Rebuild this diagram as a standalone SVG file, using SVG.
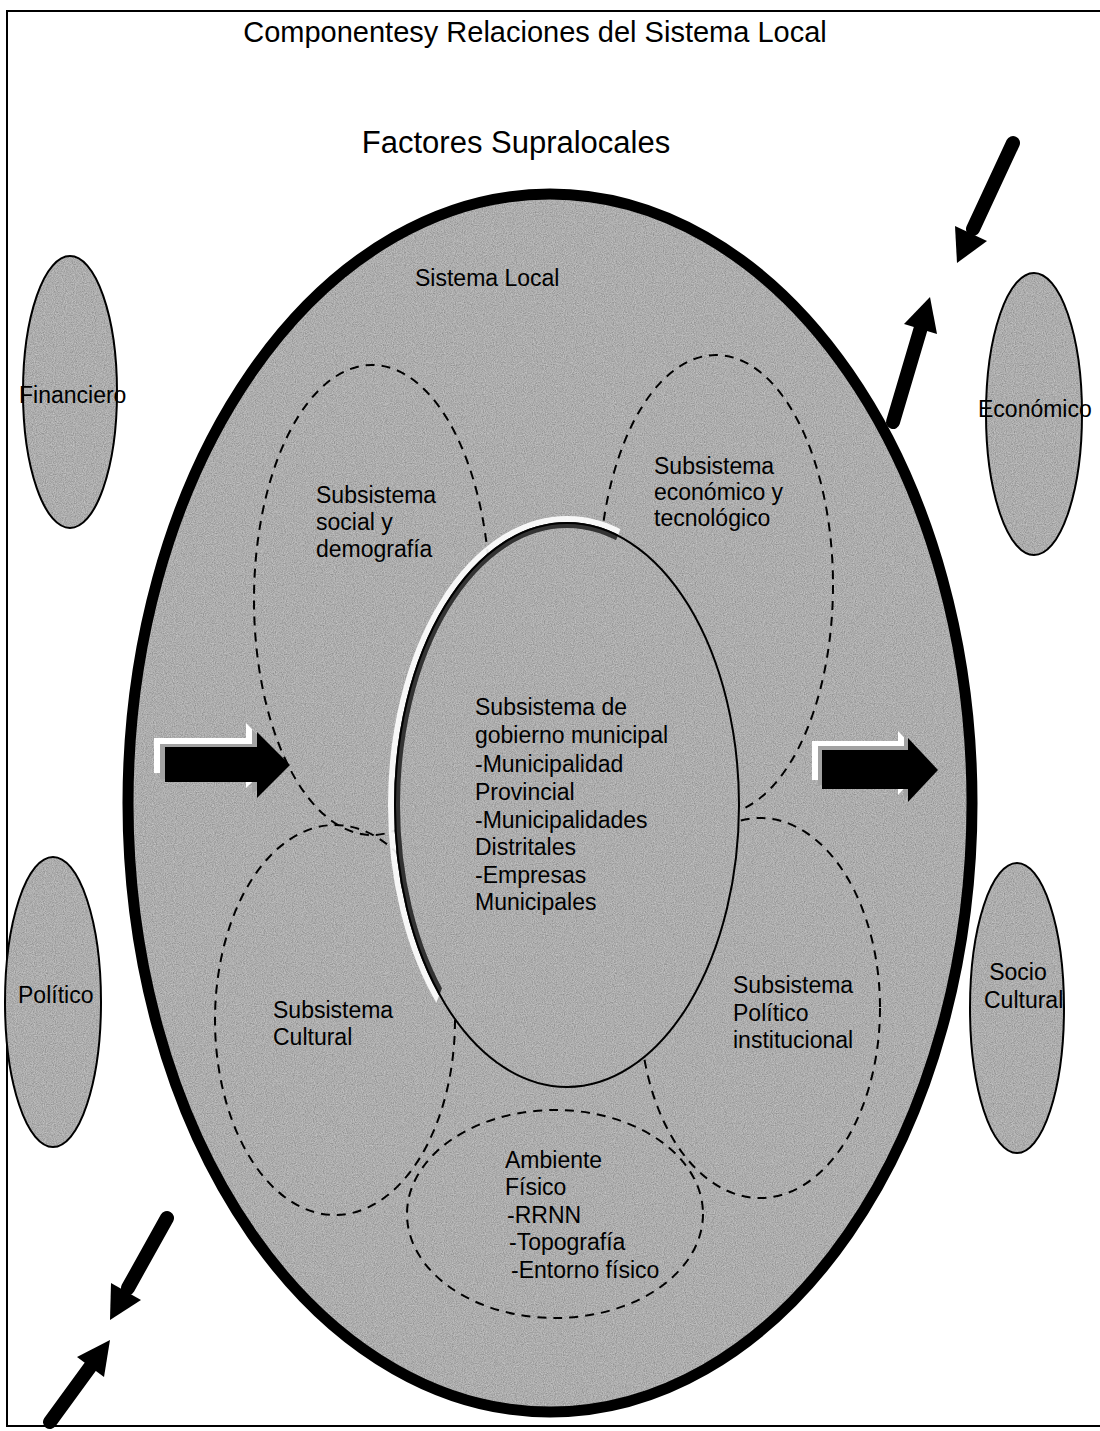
<svg xmlns="http://www.w3.org/2000/svg" width="1100" height="1431" viewBox="0 0 1100 1431">
<style>
  .t { font-family: "Liberation Sans", Arial, sans-serif; fill: #000; }
  .h { font-size: 29px; }
  .l { font-size: 23px; }
  .fillg { fill: #a2a2a2; }
  .edge { fill: none; stroke: #000; }
  .dash { fill: none; stroke: #000; stroke-width: 2; stroke-dasharray: 9 7; }
  .arw { fill: #000; }
  .shaft { stroke: #000; stroke-width: 14; stroke-linecap: round; fill: none; }
</style>
<defs>
  <filter id="grain" x="0" y="0" width="100%" height="100%">
    <feTurbulence type="fractalNoise" baseFrequency="0.9" numOctaves="2" seed="4" result="n"/>
    <feColorMatrix in="n" type="matrix" values="1 0 0 0 0  1 0 0 0 0  1 0 0 0 0  0 0 0 0 0.4" result="g"/>
    <feComposite in="g" in2="SourceAlpha" operator="in" result="gc"/>
    <feMerge><feMergeNode in="SourceGraphic"/><feMergeNode in="gc"/></feMerge>
  </filter>
  <clipPath id="hl">
    <polygon points="300,440 655,440 418,1050 300,1050"/>
  </clipPath>
</defs>
<rect x="0" y="0" width="1100" height="1431" fill="#fff"/>
<g id="frame">
  <polyline points="1100,11 7,11 7,1426 1100,1426" fill="none" stroke="#000" stroke-width="2"/>
</g>
<g id="title">
  <text class="t h" x="535" y="42" text-anchor="middle">Componentesy Relaciones del Sistema Local</text>
</g>
<g id="factores">
  <text class="t h" x="516" y="153" text-anchor="middle" style="font-size:31px">Factores Supralocales</text>
</g>
<g id="sistema-local">
  <ellipse class="fillg" cx="550" cy="803" rx="422" ry="609" filter="url(#grain)"/>
  <ellipse class="edge" cx="550" cy="803" rx="422" ry="609" stroke-width="11"/>
  <text class="t l" x="415" y="286">Sistema Local</text>
</g>
<g id="financiero">
  <ellipse class="fillg" cx="70" cy="392" rx="47" ry="136" filter="url(#grain)"/>
  <ellipse class="edge" cx="70" cy="392" rx="47" ry="136" stroke-width="2"/>
  <text class="t l" x="19" y="403">Financiero</text>
</g>
<g id="politico">
  <ellipse class="fillg" cx="53" cy="1002" rx="48" ry="145" filter="url(#grain)"/>
  <ellipse class="edge" cx="53" cy="1002" rx="48" ry="145" stroke-width="2"/>
  <text class="t l" x="18" y="1003">Político</text>
</g>
<g id="economico">
  <ellipse class="fillg" cx="1034" cy="414" rx="48" ry="141" filter="url(#grain)"/>
  <ellipse class="edge" cx="1034" cy="414" rx="48" ry="141" stroke-width="2"/>
  <text class="t l" x="978" y="417">Económico</text>
</g>
<g id="socio-cultural">
  <ellipse class="fillg" cx="1017" cy="1008" rx="47" ry="145" filter="url(#grain)"/>
  <ellipse class="edge" cx="1017" cy="1008" rx="47" ry="145" stroke-width="2"/>
  <text class="t l" x="1018" y="980" text-anchor="middle">Socio</text>
  <text class="t l" x="984" y="1008">Cultural</text>
</g>
<g id="subsistema-social">
  <ellipse class="dash" cx="372" cy="600" rx="118" ry="235"/>
  <text class="t l" x="316" y="503">Subsistema</text>
  <text class="t l" x="316" y="530">social y</text>
  <text class="t l" x="316" y="557">demografía</text>
</g>
<g id="subsistema-economico">
  <ellipse class="dash" cx="716" cy="585" rx="117" ry="230"/>
  <text class="t l" x="654" y="474">Subsistema</text>
  <text class="t l" x="654" y="500">económico y</text>
  <text class="t l" x="654" y="526">tecnológico</text>
</g>
<g id="subsistema-cultural">
  <ellipse class="dash" cx="335" cy="1020" rx="120" ry="195"/>
  <text class="t l" x="273" y="1018">Subsistema</text>
  <text class="t l" x="273" y="1045">Cultural</text>
</g>
<g id="subsistema-politico">
  <ellipse class="dash" cx="760" cy="1008" rx="120" ry="190"/>
  <text class="t l" x="733" y="993">Subsistema</text>
  <text class="t l" x="733" y="1021">Político</text>
  <text class="t l" x="733" y="1048">institucional</text>
</g>
<g id="ambiente-fisico">
  <ellipse class="dash" cx="555" cy="1214" rx="148" ry="104"/>
  <text class="t l" x="505" y="1168">Ambiente</text>
  <text class="t l" x="505" y="1195">Físico</text>
  <text class="t l" x="507" y="1223">-RRNN</text>
  <text class="t l" x="509" y="1250">-Topografía</text>
  <text class="t l" x="511" y="1278">-Entorno físico</text>
</g>
<g id="gobierno-municipal">
  <ellipse class="fillg" cx="567" cy="805" rx="172" ry="282" filter="url(#grain)"/>
  <ellipse cx="567" cy="805" rx="176" ry="286" fill="none" stroke="#fff" stroke-width="6" clip-path="url(#hl)" opacity="0.9"/>
  <ellipse cx="567" cy="805" rx="170" ry="280" fill="none" stroke="#333" stroke-width="6" clip-path="url(#hl)"/>
  <ellipse class="edge" cx="567" cy="805" rx="172" ry="282" stroke-width="2"/>
  <text class="t l" x="475" y="715">Subsistema de</text>
  <text class="t l" x="475" y="743">gobierno municipal</text>
  <text class="t l" x="475" y="772">-Municipalidad</text>
  <text class="t l" x="475" y="800">Provincial</text>
  <text class="t l" x="475" y="828">-Municipalidades</text>
  <text class="t l" x="475" y="855">Distritales</text>
  <text class="t l" x="475" y="883">-Empresas</text>
  <text class="t l" x="475" y="910">Municipales</text>
</g>
<g id="connectors">
  <g id="block-arrow-left">
    <path d="M154,738 H246 V723 L279,756 L246,788 V773 H154 Z" fill="#fff"/>
    <path d="M160,744 H252 V729 L285,762 L252,794 V779 H160 Z" fill="#a2a2a2"/>
    <path d="M165,747 H257 V732 L290,765 L257,798 V782 H165 Z" class="arw"/>
  </g>
  <g id="block-arrow-right">
    <path d="M812,741 H898 V731 L928,763 L898,795 V780 H812 Z" fill="#fff"/>
    <path d="M818,746 H904 V736 L934,768 L904,800 V785 H818 Z" fill="#a2a2a2"/>
    <path d="M822,750 H908 V738 L938,770 L908,802 V789 H822 Z" class="arw"/>
  </g>
  <g id="arrow-tr-in">
    <line class="shaft" x1="1013" y1="143" x2="973" y2="229"/>
    <polygon class="arw" points="957,263 987,241 955,226"/>
  </g>
  <g id="arrow-tr-out">
    <line class="shaft" x1="893" y1="422" x2="922" y2="324"/>
    <polygon class="arw" points="930,297 937,334 904,324"/>
  </g>
  <g id="arrow-bl-in">
    <line class="shaft" x1="167" y1="1218" x2="128" y2="1288"/>
    <polygon class="arw" points="110,1320 141,1300 111,1283"/>
  </g>
  <g id="arrow-bl-out">
    <line class="shaft" x1="50" y1="1422" x2="93" y2="1363"/>
    <polygon class="arw" points="110,1340 104,1377 77,1357"/>
  </g>
</g>
</svg>
